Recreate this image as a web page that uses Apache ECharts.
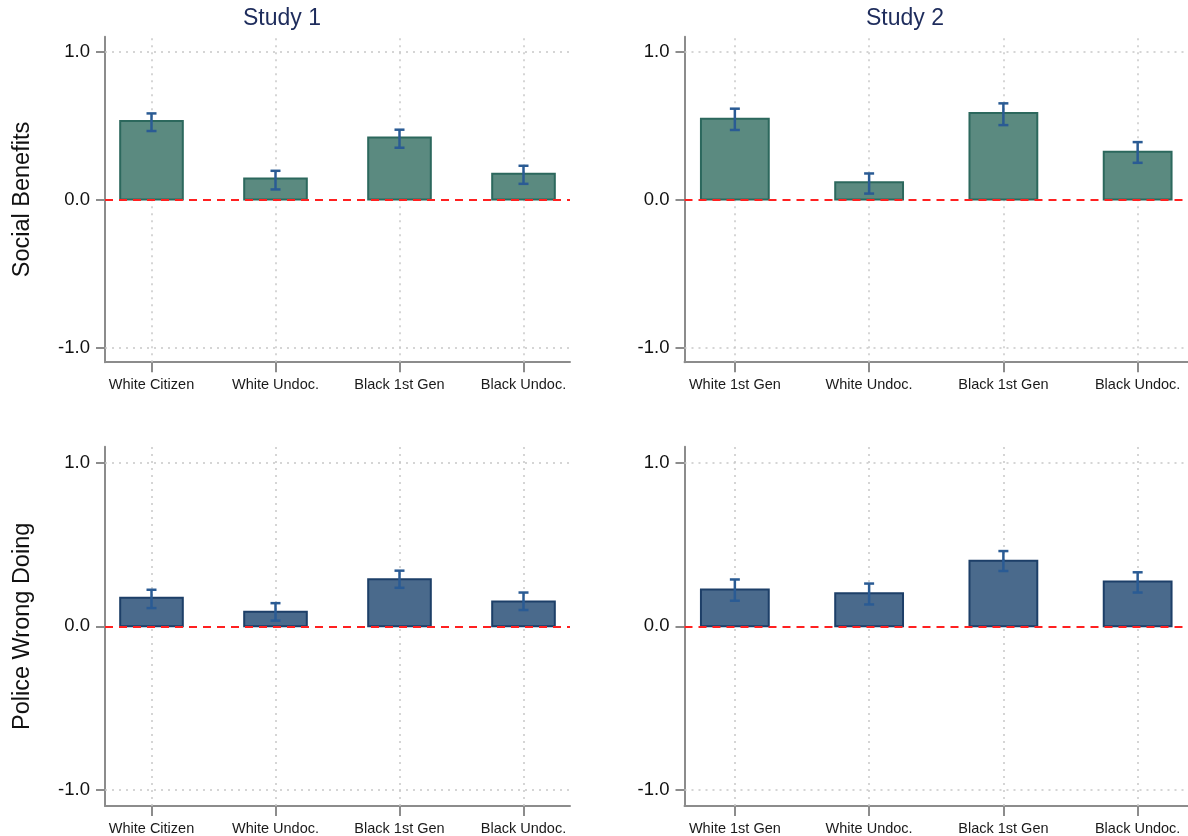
<!DOCTYPE html>
<html>
<head>
<meta charset="utf-8">
<script src="https://cdn.jsdelivr.net/npm/echarts@6/dist/echarts.min.js"></script>
<style>
html,body{margin:0;padding:0;background:#fff;}
#c{width:1188px;height:836px;}
</style>
</head>
<body>
<div id="c"></div>
<script>
// ---- data ----
var categoriesStudy1 = ['White Citizen', 'White Undoc.', 'Black 1st Gen', 'Black Undoc.'];
var categoriesStudy2 = ['White 1st Gen', 'White Undoc.', 'Black 1st Gen', 'Black Undoc.'];
var yTickValues = [-1, 0, 1];

var socialStudy1 = [0.53, 0.142, 0.42, 0.174];
var socialStudy1Lo = [0.463, 0.068, 0.35, 0.106];
var socialStudy1Hi = [0.582, 0.194, 0.472, 0.228];

var socialStudy2 = [0.546, 0.117, 0.585, 0.323];
var socialStudy2Lo = [0.47, 0.04, 0.503, 0.248];
var socialStudy2Hi = [0.614, 0.176, 0.65, 0.388];

var policeStudy1 = [0.175, 0.089, 0.289, 0.152];
var policeStudy1Lo = [0.112, 0.035, 0.236, 0.1];
var policeStudy1Hi = [0.224, 0.142, 0.341, 0.207];

var policeStudy2 = [0.226, 0.203, 0.402, 0.274];
var policeStudy2Lo = [0.157, 0.134, 0.339, 0.207];
var policeStudy2Hi = [0.287, 0.262, 0.461, 0.331];

// ---- styling ----
var FONT = '"Liberation Sans", Arial, Helvetica, sans-serif';
var BAR_W = 0.505;
var TEAL_FILL = '#5b8a80', TEAL_EDGE = '#2c685d';
var BLUE_FILL = '#4a6a8c', BLUE_EDGE = '#1d3f68';
var ERR_COLOR = '#2a5b94';
var AXIS_COLOR = '#8c8c8c';
var GRID_COLOR = '#c8c8c8';

function rows(vals, lo, hi) {
  return vals.map(function (v, i) { return [i + 1, v, lo[i], hi[i]]; });
}

function barRender(fill, edge) {
  return function (params, api) {
    var x = api.value(0), v = api.value(1), lo = api.value(2), hi = api.value(3);
    var a = api.coord([x - BAR_W / 2, v]);
    var b = api.coord([x + BAR_W / 2, 0]);
    var t = api.coord([x, hi]);
    var d = api.coord([x, lo]);
    var cap = 5;
    return {
      type: 'group',
      children: [
        { type: 'rect', shape: { x: a[0], y: Math.min(a[1], b[1]), width: b[0] - a[0], height: Math.abs(b[1] - a[1]) },
          style: { fill: fill, stroke: edge, lineWidth: 2 } },
        { type: 'line', shape: { x1: t[0], y1: t[1], x2: d[0], y2: d[1] }, style: { stroke: ERR_COLOR, lineWidth: 2.5 } },
        { type: 'line', shape: { x1: t[0] - cap, y1: t[1], x2: t[0] + cap, y2: t[1] }, style: { stroke: ERR_COLOR, lineWidth: 2.5 } },
        { type: 'line', shape: { x1: d[0] - cap, y1: d[1], x2: d[0] + cap, y2: d[1] }, style: { stroke: ERR_COLOR, lineWidth: 2.5 } }
      ]
    };
  };
}

var grids = [
  { left: 105, right: 618, top: 36.8, bottom: 473.8 },
  { left: 684.5, right: -6.5, top: 36.8, bottom: 473.8 },
  { left: 105, right: 618, top: 446.7, bottom: 28.1 },
  { left: 684.5, right: -6.5, top: 446.7, bottom: 28.1 }
];

var panelCats = [categoriesStudy1, categoriesStudy2, categoriesStudy1, categoriesStudy2];
var yNames = ['Social Benefits', '', 'Police Wrong Doing', ''];

var xAxes = grids.map(function (g, i) {
  var cats = panelCats[i];
  return {
    type: 'value', gridIndex: i, min: 0.625, max: 4.375,
    axisLine: { show: true, onZero: false, lineStyle: { color: AXIS_COLOR, width: 2 } },
    axisTick: { show: true, length: 10, customValues: [1, 2, 3, 4], lineStyle: { color: AXIS_COLOR, width: 2 } },
    axisLabel: { show: true, customValues: [1, 2, 3, 4], margin: 15, fontSize: 14.5, color: '#1a1a1a', fontFamily: FONT,
      formatter: function (v) { return cats[Math.round(v) - 1] || ''; } },
    splitLine: { show: false }
  };
});

var yAxes = grids.map(function (g, i) {
  return {
    type: 'value', gridIndex: i, min: -1.1, max: 1.1,
    name: yNames[i], nameLocation: 'middle', nameGap: 70,
    nameTextStyle: { fontSize: 23.5, color: '#111', fontFamily: FONT },
    axisLine: { show: true, onZero: false, lineStyle: { color: AXIS_COLOR, width: 2 } },
    axisTick: { show: true, length: 9, customValues: yTickValues, lineStyle: { color: AXIS_COLOR, width: 2 } },
    axisLabel: { show: true, customValues: yTickValues, margin: 15, fontSize: 18.5, color: '#111', fontFamily: FONT,
      formatter: function (v) { return v.toFixed(1); } },
    splitLine: { show: false }
  };
});

var panelData = [
  { d: rows(socialStudy1, socialStudy1Lo, socialStudy1Hi), fill: TEAL_FILL, edge: TEAL_EDGE },
  { d: rows(socialStudy2, socialStudy2Lo, socialStudy2Hi), fill: TEAL_FILL, edge: TEAL_EDGE },
  { d: rows(policeStudy1, policeStudy1Lo, policeStudy1Hi), fill: BLUE_FILL, edge: BLUE_EDGE },
  { d: rows(policeStudy2, policeStudy2Lo, policeStudy2Hi), fill: BLUE_FILL, edge: BLUE_EDGE }
];

var series = [];
panelData.forEach(function (p, i) {
  // dotted reference grid (below bars)
  series.push({
    type: 'custom', xAxisIndex: i, yAxisIndex: i, z: 1, silent: true,
    data: p.d, encode: { x: 0, y: 1 },
    renderItem: function () { return { type: 'group', children: [] }; },
    markLine: {
      silent: true, symbol: 'none', z: 1, animation: false,
      label: { show: false },
      lineStyle: { color: GRID_COLOR, type: [2, 5], width: 1.5 },
      data: [{ yAxis: 1 }, { yAxis: -1 }, { xAxis: 1 }, { xAxis: 2 }, { xAxis: 3 }, { xAxis: 4 }]
    }
  });
  // bars + error bars
  series.push({
    type: 'custom', xAxisIndex: i, yAxisIndex: i, z: 2,
    data: p.d, encode: { x: 0, y: 1 },
    renderItem: barRender(p.fill, p.edge)
  });
  // red zero line (above bars)
  series.push({
    type: 'custom', xAxisIndex: i, yAxisIndex: i, z: 5, silent: true,
    data: p.d, encode: { x: 0, y: 1 },
    renderItem: function () { return { type: 'group', children: [] }; },
    markLine: {
      silent: true, symbol: 'none', z: 5, animation: false,
      label: { show: false },
      lineStyle: { color: '#ff2020', type: [8, 6], width: 2 },
      data: [{ yAxis: 0 }]
    }
  });
});

var option = {
  backgroundColor: '#ffffff',
  animation: false,
  grid: grids,
  xAxis: xAxes,
  yAxis: yAxes,
  series: series,
  graphic: [
    { type: 'text', left: 243, top: 7, style: { text: 'Study 1', fontSize: 23, fill: '#1e2c5c', fontFamily: FONT } },
    { type: 'text', left: 866, top: 7, style: { text: 'Study 2', fontSize: 23, fill: '#1e2c5c', fontFamily: FONT } }
  ]
};

var chart = echarts.init(document.getElementById('c'), null, { renderer: 'canvas' });
chart.setOption(option);
</script>
</body>
</html>
